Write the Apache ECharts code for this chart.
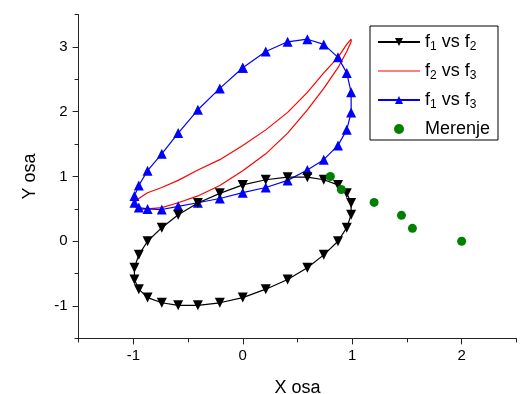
<!DOCTYPE html>
<html>
<head>
<meta charset="utf-8">
<script src="https://cdn.jsdelivr.net/npm/echarts@6/dist/echarts.min.js"></script>
<style>html,body{margin:0;padding:0;background:#fff}#c{width:521px;height:394px}</style>
</head>
<body>
<div id="c"></div>
<script>
// parametric samples (one full loop, last point closes it)
const f1 = [0, 0.21, 0.41, 0.59, 0.74, 0.87, 0.95, 0.99, 0.99, 0.95, 0.87, 0.74, 0.59, 0.41, 0.21, 0,
  -0.21, -0.41, -0.59, -0.74, -0.87, -0.95, -0.99, -0.99, -0.95, -0.87, -0.74, -0.59, -0.41, -0.21, 0];
const f2 = [0.87, 0.95, 0.99, 0.99, 0.95, 0.87, 0.74, 0.59, 0.41, 0.21, 0, -0.21, -0.41, -0.59, -0.74, -0.87,
  -0.95, -0.99, -0.99, -0.95, -0.87, -0.74, -0.59, -0.41, -0.21, 0, 0.21, 0.41, 0.59, 0.74, 0.87];
const f3 = [2.68, 2.93, 3.08, 3.12, 3.04, 2.84, 2.60, 2.30, 1.99, 1.72, 1.48, 1.26, 1.10, 0.94, 0.83, 0.75,
  0.66, 0.595, 0.54, 0.49, 0.50, 0.52, 0.595, 0.70, 0.86, 1.09, 1.35, 1.67, 2.03, 2.36, 2.68];
const merenjeX = [0.8, 0.9, 1.2, 1.45, 1.55, 2.0];
const merenjeY = [1.0, 0.8, 0.6, 0.4, 0.2, 0.0];
const xTicks = [-1, 0, 1, 2];
const xMinor = [-1.5, -0.5, 0.5, 1.5, 2.5];
const yTicks = [-1, 0, 1, 2, 3];
const yMinor = [-1.5, -0.5, 0.5, 1.5, 2.5, 3.5];
const seriesNames = ['f1 vs f2', 'f2 vs f3', 'f1 vs f3', 'Merenje'];
const legendLabels = ['f{s|1} vs f{s|2}', 'f{s|2} vs f{s|3}', 'f{s|1} vs f{s|3}', 'Merenje'];

const pair = (a, b) => a.map((v, i) => [v, b[i]]);
const FONT = 'Liberation Sans, Arial, sans-serif';
const axisCol = '#222';

const chart = echarts.init(document.getElementById('c'), null, {renderer: 'canvas'});
chart.setOption({
  animation: false,
  backgroundColor: '#fff',
  grid: {left: 78.6, right: 4.6, top: 14.6, bottom: 55.6, outerBoundsMode: 'none', containLabel: false},
  xAxis: [{
    type: 'value', min: -1.5, max: 2.5,
    name: 'X osa', nameLocation: 'middle', nameGap: 41,
    nameTextStyle: {fontSize: 18, color: '#000', fontFamily: FONT},
    axisLine: {show: true, onZero: false, lineStyle: {color: axisCol, width: 1}},
    axisTick: {show: true, inside: false, length: 6, customValues: xTicks, lineStyle: {color: axisCol}},
    axisLabel: {customValues: xTicks, fontSize: 15, color: '#000', fontFamily: FONT, margin: 10},
    splitLine: {show: false}
  }, {
    type: 'value', min: -1.5, max: 2.5, position: 'bottom',
    axisLine: {show: false, onZero: false},
    axisTick: {show: true, length: 4, customValues: xMinor, lineStyle: {color: axisCol}},
    axisLabel: {show: false},
    splitLine: {show: false}
  }],
  yAxis: [{
    type: 'value', min: -1.5, max: 3.5,
    name: 'Y osa', nameLocation: 'middle', nameGap: 40,
    nameTextStyle: {fontSize: 18, color: '#000', fontFamily: FONT},
    axisLine: {show: true, onZero: false, lineStyle: {color: axisCol, width: 1}},
    axisTick: {show: true, length: 6, customValues: yTicks, lineStyle: {color: axisCol}},
    axisLabel: {customValues: yTicks, fontSize: 15, color: '#000', fontFamily: FONT, margin: 11},
    splitLine: {show: false}
  }, {
    type: 'value', min: -1.5, max: 3.5, position: 'left',
    axisLine: {show: false, onZero: false},
    axisTick: {show: true, length: 4, customValues: yMinor, lineStyle: {color: axisCol}},
    axisLabel: {show: false},
    splitLine: {show: false}
  }],
  legend: {
    orient: 'vertical', left: 370, top: 26,
    data: [
      {name: seriesNames[0]},
      {name: seriesNames[1], icon: 'path://M0,0L42,0L42,1.2L0,1.2Z'},
      {name: seriesNames[2]},
      {name: seriesNames[3]}
    ],
    backgroundColor: '#fff', borderColor: '#000', borderWidth: 1, borderRadius: 0,
    padding: [5, 4, 0, 7],
    itemWidth: 42, itemHeight: 10, itemGap: 7,
    formatter: name => legendLabels[seriesNames.indexOf(name)],
    textStyle: {
      fontSize: 18, color: '#000', fontFamily: FONT, lineHeight: 22, width: 69, overflow: 'none',
      rich: {s: {fontSize: 12, fontFamily: FONT, color: '#000', lineHeight: 14, verticalAlign: 'bottom'}}
    }
  },
  series: [
    {
      name: 'f1 vs f2', type: 'line', data: pair(f1, f2), z: 4,
      symbol: 'triangle', symbolRotate: 180, symbolSize: 10, showSymbol: true,
      lineStyle: {color: '#000', width: 1.2}, itemStyle: {color: '#000'}
    },
    {
      name: 'f2 vs f3', type: 'line', data: pair(f2, f3), z: 2,
      showSymbol: false, symbol: 'none',
      lineStyle: {color: '#ff0000', width: 1.2}, itemStyle: {color: '#ff0000'}
    },
    {
      name: 'f1 vs f3', type: 'line', data: pair(f1, f3), z: 3,
      symbol: 'triangle', symbolSize: 10, showSymbol: true,
      lineStyle: {color: '#0000ff', width: 1.2}, itemStyle: {color: '#0000ff'}
    },
    {
      name: 'Merenje', type: 'scatter', data: pair(merenjeX, merenjeY), z: 5,
      symbol: 'circle', symbolSize: 9,
      itemStyle: {color: '#008000', opacity: 1}
    }
  ]
});
</script>
</body>
</html>
